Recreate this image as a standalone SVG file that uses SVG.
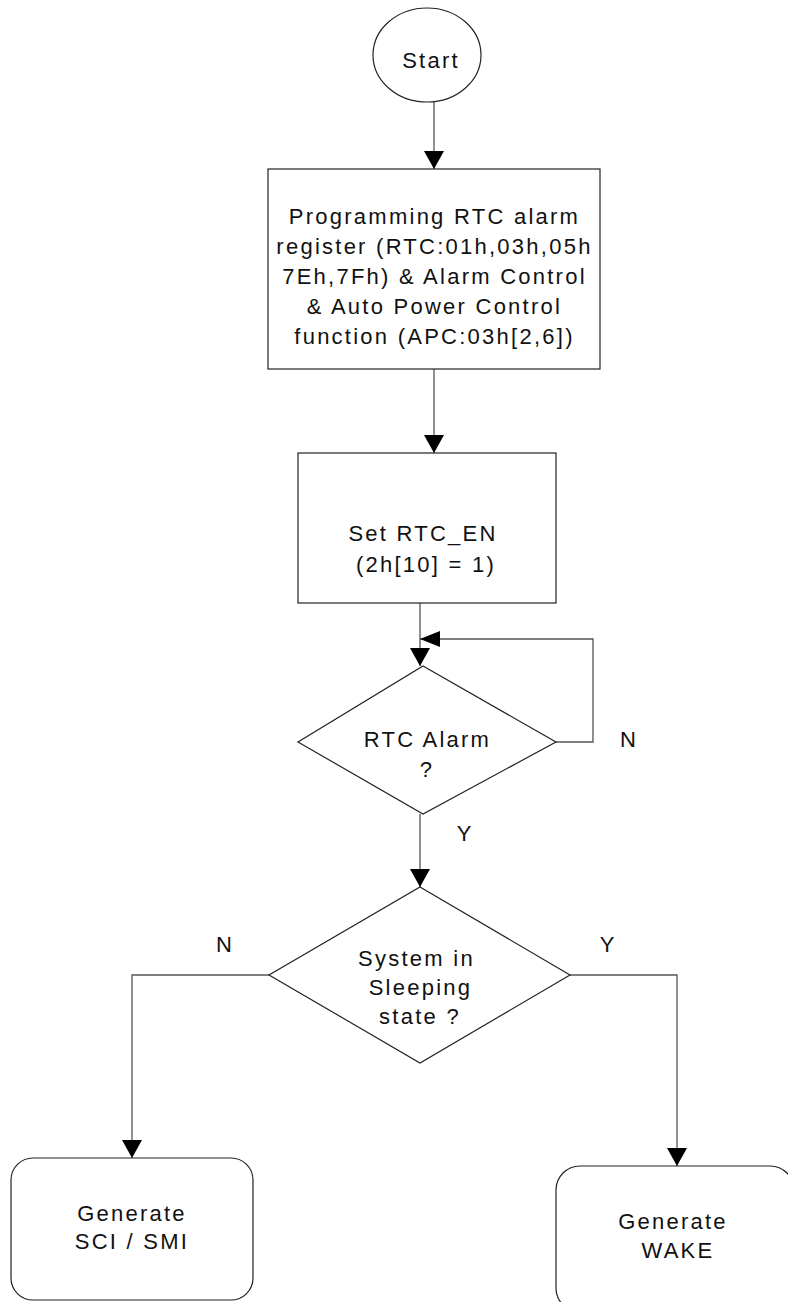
<svg xmlns="http://www.w3.org/2000/svg" width="788" height="1302" viewBox="0 0 788 1302">
<defs>
<style>
.shape{fill:#fff;stroke:#222;stroke-width:1.2}
.conn{fill:none;stroke:#555;stroke-width:1.3}
.t{font-family:"Liberation Sans",Arial,sans-serif;font-size:22px;fill:#111;text-anchor:middle;letter-spacing:2.25px}
.lbl{font-family:"Liberation Sans",Arial,sans-serif;font-size:22px;fill:#111;text-anchor:middle}
</style>
<marker id="ah" viewBox="0 0 18 20" refX="18" refY="10" markerWidth="18" markerHeight="20" markerUnits="userSpaceOnUse" orient="auto">
<path d="M0,0 L18,10 L0,20 Z" fill="#000"/>
</marker>
<marker id="ah2" viewBox="0 0 20 16" refX="20" refY="8" markerWidth="20" markerHeight="16" markerUnits="userSpaceOnUse" orient="auto">
<path d="M0,0 L20,8 L0,16 Z" fill="#000"/>
</marker>
</defs>
<rect width="788" height="1302" fill="#fff"/>
<g id="connectors">
<path class="conn" d="M434,102 V169" marker-end="url(#ah)"/>
<path class="conn" d="M434,369 V453" marker-end="url(#ah)"/>
<path class="conn" d="M420,603 V666" marker-end="url(#ah)"/>
<path class="conn" d="M556,742 H593 V639 H420" marker-end="url(#ah2)"/>
<path class="conn" d="M420,814 V887" marker-end="url(#ah)"/>
<path class="conn" d="M269,975 H132 V1158" marker-end="url(#ah)"/>
<path class="conn" d="M570,975 H677 V1166" marker-end="url(#ah)"/>
<text class="lbl" x="628" y="747">N</text>
<text class="lbl" x="464" y="841">Y</text>
<text class="lbl" x="224" y="952">N</text>
<text class="lbl" x="607" y="952">Y</text>
</g>
<g id="start">
<ellipse class="shape" cx="427" cy="55" rx="54" ry="47"/>
<text class="t" x="431" y="68">Start</text>
</g>
<g id="program">
<rect class="shape" x="268" y="169" width="332" height="200"/>
<text class="t" x="434.5" y="224">Programming RTC alarm</text>
<text class="t" x="434.5" y="254">register (RTC:01h,03h,05h</text>
<text class="t" x="434.5" y="284">7Eh,7Fh) &amp; Alarm Control</text>
<text class="t" x="434.5" y="314">&amp; Auto Power Control</text>
<text class="t" x="434.5" y="344">function (APC:03h[2,6])</text>
</g>
<g id="setrtc">
<rect class="shape" x="298" y="453" width="258" height="150"/>
<text class="t" x="423" y="541">Set RTC_EN</text>
<text class="t" x="426" y="572">(2h[10] = 1)</text>
</g>
<g id="alarm">
<path class="shape" d="M423,666 L556,742 L423,814 L298,742 Z"/>
<text class="t" x="427.5" y="747">RTC Alarm</text>
<text class="t" x="427" y="777">?</text>
</g>
<g id="sleeping">
<path class="shape" d="M420,887 L570,975 L420,1063 L269,975 Z"/>
<text class="t" x="416.5" y="966">System in</text>
<text class="t" x="420.5" y="995">Sleeping</text>
<text class="t" x="420" y="1024">state ?</text>
</g>
<g id="sci">
<rect class="shape" x="11" y="1158" width="242" height="142" rx="22" ry="22"/>
<text class="t" x="132" y="1221">Generate</text>
<text class="t" x="132" y="1249">SCI / SMI</text>
</g>
<g id="wake">
<rect class="shape" x="556" y="1166" width="238" height="146" rx="24" ry="24"/>
<text class="t" x="673" y="1229">Generate</text>
<text class="t" x="678" y="1258">WAKE</text>
</g>
</svg>
